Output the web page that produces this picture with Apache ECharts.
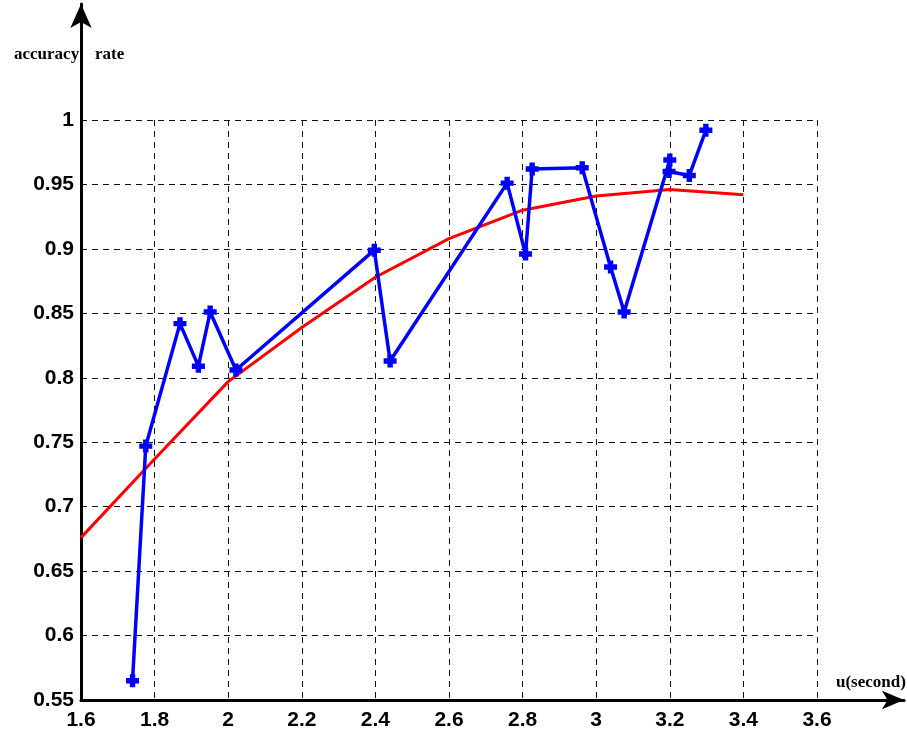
<!DOCTYPE html>
<html>
<head>
<meta charset="utf-8">
<script src="https://cdn.jsdelivr.net/npm/echarts@6/dist/echarts.min.js"></script>
<style>
  html, body { margin: 0; padding: 0; background: #fff; }
  #chart { width: 907px; height: 735px; }
</style>
</head>
<body>
<div id="chart"></div>
<script>
// measured accuracy (blue, with markers)
const measuredX = [1.74, 1.776, 1.869, 1.919, 1.951, 2.021, 2.397, 2.44, 2.758, 2.808, 2.826, 2.962, 3.039, 3.076, 3.2, 3.198, 3.253, 3.298]
const measuredY = [0.565, 0.747, 0.842, 0.809, 0.851, 0.806, 0.899, 0.813, 0.951, 0.896, 0.962, 0.963, 0.886, 0.851, 0.969, 0.96, 0.957, 0.992]

// fitted curve (red)
const fitX = [1.6, 1.8, 2.0, 2.2, 2.4, 2.6, 2.8, 3.0, 3.2, 3.4]
const fitY = [0.676, 0.737, 0.797, 0.839, 0.878, 0.908, 0.93, 0.941, 0.946, 0.942]

const xTicks = [1.6, 1.8, 2.0, 2.2, 2.4, 2.6, 2.8, 3.0, 3.2, 3.4, 3.6]
const yTicks = [0.55, 0.6, 0.65, 0.7, 0.75, 0.8, 0.85, 0.9, 0.95, 1]

const labelFont = {
	color: '#000',
	fontFamily: 'Liberation Sans, Arial, sans-serif',
	fontWeight: 'bold',
	fontSize: 21
}
const nameFont = {
	color: '#000',
	fontFamily: 'Liberation Serif, Times New Roman, serif',
	fontWeight: 'bold',
	fontSize: 17
}
const dashed = { color: '#111', width: 1, type: [6, 5] }
const plus = 'path://M3.5,0 L8.5,0 L8.5,3.5 L12,3.5 L12,8.5 L8.5,8.5 L8.5,12 L3.5,12 L3.5,8.5 L0,8.5 L0,3.5 L3.5,3.5 Z'

const chart = echarts.init(document.getElementById('chart'))

chart.setOption({
	animation: false,
	backgroundColor: '#fff',
	title: [
		{ text: 'accuracy', left: 9, top: 41, textStyle: nameFont },
		{ text: 'rate', left: 90, top: 41, textStyle: nameFont },
		{ text: 'u(second)', left: 831, top: 669, textStyle: nameFont }
	],
	grid: [
		{ left: 81, right: 90, top: 120, bottom: 35 },
		{ left: 81, right: 3, top: 4, bottom: 35 }
	],
	xAxis: [
		{
			gridIndex: 0,
			type: 'value',
			min: xTicks[0],
			max: xTicks[xTicks.length - 1],
			interval: 0.2,
			axisLine: { show: false },
			axisTick: { show: false },
			splitLine: { show: true, lineStyle: dashed },
			axisLabel: Object.assign({ margin: 10, formatter: v => String(+v.toFixed(1)) }, labelFont)
		},
		{
			gridIndex: 1,
			type: 'value',
			min: 0,
			max: 1,
			axisLine: {
				show: true,
				symbol: ['none', 'arrow'],
				symbolSize: [14, 22],
				lineStyle: { color: '#000', width: 3 }
			},
			axisTick: { show: false },
			axisLabel: { show: false },
			splitLine: { show: false }
		}
	],
	yAxis: [
		{
			gridIndex: 0,
			type: 'value',
			min: yTicks[0],
			max: yTicks[yTicks.length - 1],
			interval: 0.05,
			axisLine: { show: false },
			axisTick: { show: false },
			splitLine: { show: true, lineStyle: dashed },
			axisLabel: Object.assign({ margin: 7, formatter: v => String(+v.toFixed(2)) }, labelFont)
		},
		{
			gridIndex: 1,
			type: 'value',
			min: 0,
			max: 1,
			axisLine: {
				show: true,
				symbol: ['none', 'arrow'],
				symbolSize: [16, 24],
				lineStyle: { color: '#000', width: 3 }
			},
			axisTick: { show: false },
			axisLabel: { show: false },
			splitLine: { show: false }
		}
	],
	series: [
		{
			name: 'fit',
			type: 'line',
			xAxisIndex: 0,
			yAxisIndex: 0,
			data: fitX.map((x, i) => [x, fitY[i]]),
			showSymbol: false,
			lineStyle: { color: '#ff0000', width: 3 },
			z: 3
		},
		{
			name: 'accuracy',
			type: 'line',
			xAxisIndex: 0,
			yAxisIndex: 0,
			data: measuredX.map((x, i) => [x, measuredY[i]]),
			symbol: plus,
			symbolSize: 13,
			lineStyle: { color: '#0000ff', width: 3.5 },
			itemStyle: { color: '#0000ff' },
			z: 4
		}
	]
})
</script>
</body>
</html>
